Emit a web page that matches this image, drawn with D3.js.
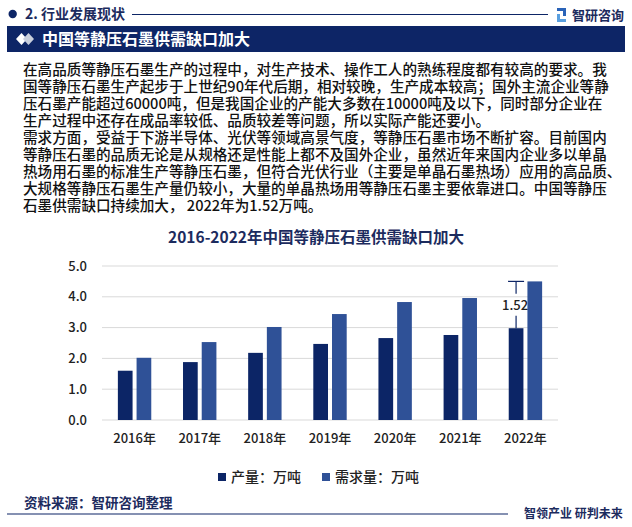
<!DOCTYPE html>
<html><head><meta charset="utf-8">
<script src="https://cdn.jsdelivr.net/npm/d3@7"></script>
<style>body{margin:0;background:#fff} svg{display:block}</style>
</head><body><svg id="c" width="632" height="527"></svg>
<script>
const years = ["2016年","2017年","2018年","2019年","2020年","2021年","2022年"];
const production = [1.60, 1.88, 2.18, 2.47, 2.66, 2.76, 2.98];
const demand = [2.02, 2.53, 3.02, 3.44, 3.83, 3.96, 4.50];
const seriesNames = ["产量：万吨", "需求量：万吨"];
const yTicks = [0, 1, 2, 3, 4, 5];
const gapYear = "2022年";
const gapLabel = "1.52";
const paragraph = [
  "在高品质等静压石墨生产的过程中，对生产技术、操作工人的熟练程度都有较高的要求。我",
  "国等静压石墨生产起步于上世纪90年代后期，相对较晚，生产成本较高；国外主流企业等静",
  "压石墨产能超过60000吨，但是我国企业的产能大多数在10000吨及以下，同时部分企业在",
  "生产过程中还存在成品率较低、品质较差等问题，所以实际产能还要小。",
  "需求方面，受益于下游半导体、光伏等领域高景气度，等静压石墨市场不断扩容。目前国内",
  "等静压石墨的品质无论是从规格还是性能上都不及国外企业，虽然近年来国内企业多以单晶",
  "热场用石墨的标准生产等静压石墨，但符合光伏行业（主要是单晶石墨热场）应用的高品质、",
  "大规格等静压石墨生产量仍较小，大量的单晶热场用等静压石墨主要依靠进口。中国等静压",
  "石墨供需缺口持续加大， 2022年为1.52万吨。"
];

const FONT = "'Noto Sans CJK SC','Noto Sans',sans-serif";
const NAVY = "#0d2566";
const C1 = "#0c2566", C2 = "#2f5197";
const svg = d3.select("#c").style("font-family", FONT);

// header
svg.append("circle").attr("cx", 12.7).attr("cy", 14).attr("r", 4.2).attr("fill", NAVY);
svg.append("text").attr("x", 25).attr("y", 19).attr("font-size", 14).attr("font-weight", "bold")
  .attr("fill", "#1c2b5e").text("2. 行业发展现状");
svg.append("line").attr("x1", 132).attr("x2", 548).attr("y1", 14.5).attr("y2", 14.5)
  .attr("stroke", NAVY).attr("stroke-width", 1);
// logo
const lg = svg.append("g").attr("transform", "translate(557,8)");
lg.append("rect").attr("x", 0).attr("y", 0).attr("width", 9).attr("height", 3).attr("fill", "#2a63b8");
lg.append("rect").attr("x", 6).attr("y", 0).attr("width", 3).attr("height", 8).attr("fill", "#2a63b8");
lg.append("rect").attr("x", 0).attr("y", 6).attr("width", 3).attr("height", 8).attr("fill", "#5aa0e0");
lg.append("rect").attr("x", 0).attr("y", 11).attr("width", 9).attr("height", 3).attr("fill", "#5aa0e0");
svg.append("text").attr("x", 572).attr("y", 20).attr("font-size", 13).attr("font-weight", "bold")
  .attr("fill", "#1c2b5e").text("智研咨询");

// banner
svg.append("rect").attr("x", 7).attr("y", 26).attr("width", 618).attr("height", 26).attr("fill", NAVY);
svg.append("path").attr("d", "M16,39 L21.5,33 L27,39 L21.5,45 Z").attr("fill", "#ffffff");
svg.append("path").attr("d", "M23,39 L28.5,33 L34,39 L28.5,45 Z").attr("fill", "#c9cfdc");
svg.append("text").attr("x", 42).attr("y", 45).attr("font-size", 16).attr("font-weight", "bold")
  .attr("fill", "#fff").text("中国等静压石墨供需缺口加大");

// paragraph (one text block, one tspan per line)
svg.append("text").attr("font-size", 14.6).attr("font-weight", 500).attr("fill", "#111")
  .selectAll("tspan").data(paragraph).join("tspan")
  .attr("x", 23).attr("y", (d, i) => 74.5 + i * 17.1).text(d => d);

// chart title
svg.append("text").attr("x", 316).attr("y", 243).attr("text-anchor", "middle")
  .attr("font-size", 15.5).attr("font-weight", "bold").attr("fill", "#1c2b5e")
  .text("2016-2022年中国等静压石墨供需缺口加大");

// chart
const x = d3.scaleBand().domain(years).range([102, 558]);
const y = d3.scaleLinear().domain([0, 5]).range([420, 266]);
const bw = 14.7, gap = 4;
const g = svg.append("g");

g.append("g").selectAll("line").data(yTicks).join("line")
  .attr("x1", 102).attr("x2", 558).attr("y1", d => y(d)).attr("y2", d => y(d))
  .attr("stroke", "#d9d9d9").attr("stroke-width", 1);

const yAxis = g.append("g").attr("transform", "translate(102,0)")
  .call(d3.axisLeft(y).tickValues(yTicks).tickFormat(d3.format(".1f")).tickSize(0).tickPadding(15));
yAxis.select(".domain").remove();
yAxis.selectAll("text").attr("font-family", FONT).attr("font-size", 13).attr("font-weight", 500).attr("fill", "#222");

const xAxis = g.append("g").attr("transform", "translate(0,420)")
  .call(d3.axisBottom(x).tickSize(0).tickPadding(14));
xAxis.select(".domain").remove();
xAxis.selectAll("text").attr("font-family", FONT).attr("font-size", 13).attr("font-weight", 500).attr("fill", "#222");

const cx = d => x(d) + x.bandwidth() / 2;
g.append("g").selectAll("rect").data(years).join("rect")
  .attr("x", d => cx(d) - gap / 2 - bw).attr("width", bw)
  .attr("y", (d, i) => y(production[i])).attr("height", (d, i) => y(0) - y(production[i]))
  .attr("fill", C1);
g.append("g").selectAll("rect").data(years).join("rect")
  .attr("x", d => cx(d) + gap / 2).attr("width", bw)
  .attr("y", (d, i) => y(demand[i])).attr("height", (d, i) => y(0) - y(demand[i]))
  .attr("fill", C2);

// gap annotation
const gi = years.indexOf(gapYear);
const ax = cx(gapYear) - gap / 2 - bw / 2;
const yTop = y(demand[gi]), yBot = y(production[gi]);
const ym = (yTop + yBot) / 2;
const ann = g.append("g").attr("stroke", NAVY).attr("stroke-width", 1.2);
ann.append("line").attr("x1", ax).attr("x2", ax).attr("y1", yTop).attr("y2", ym - 11);
ann.append("line").attr("x1", ax).attr("x2", ax).attr("y1", ym + 11).attr("y2", yBot);
ann.append("line").attr("x1", ax - 8).attr("x2", ax + 8).attr("y1", yTop).attr("y2", yTop);
g.append("text").attr("x", ax - 1).attr("y", ym + 5).attr("text-anchor", "middle")
  .attr("font-size", 13).attr("font-weight", 500).attr("fill", "#222").text(gapLabel);

// legend
const leg = svg.append("g");
const legX = [218, 322];
seriesNames.forEach((n, i) => {
  leg.append("rect").attr("x", legX[i]).attr("y", 473).attr("width", 8).attr("height", 8).attr("fill", [C1, C2][i]);
  leg.append("text").attr("x", legX[i] + 13).attr("y", 482).attr("font-size", 14).attr("font-weight", 500)
    .attr("fill", "#222").text(n);
});

// footer
svg.append("text").attr("x", 24).attr("y", 508).attr("font-size", 13.5).attr("font-weight", "bold")
  .attr("fill", "#1c2b5e").text("资料来源：智研咨询整理");
svg.append("line").attr("x1", 7).attr("x2", 508).attr("y1", 514).attr("y2", 514)
  .attr("stroke", NAVY).attr("stroke-width", 1.2);
svg.append("text").attr("x", 524).attr("y", 518).attr("font-size", 12).attr("font-weight", "bold")
  .attr("fill", "#1c2b5e").text("智领产业 研判未来");
</script></body></html>
